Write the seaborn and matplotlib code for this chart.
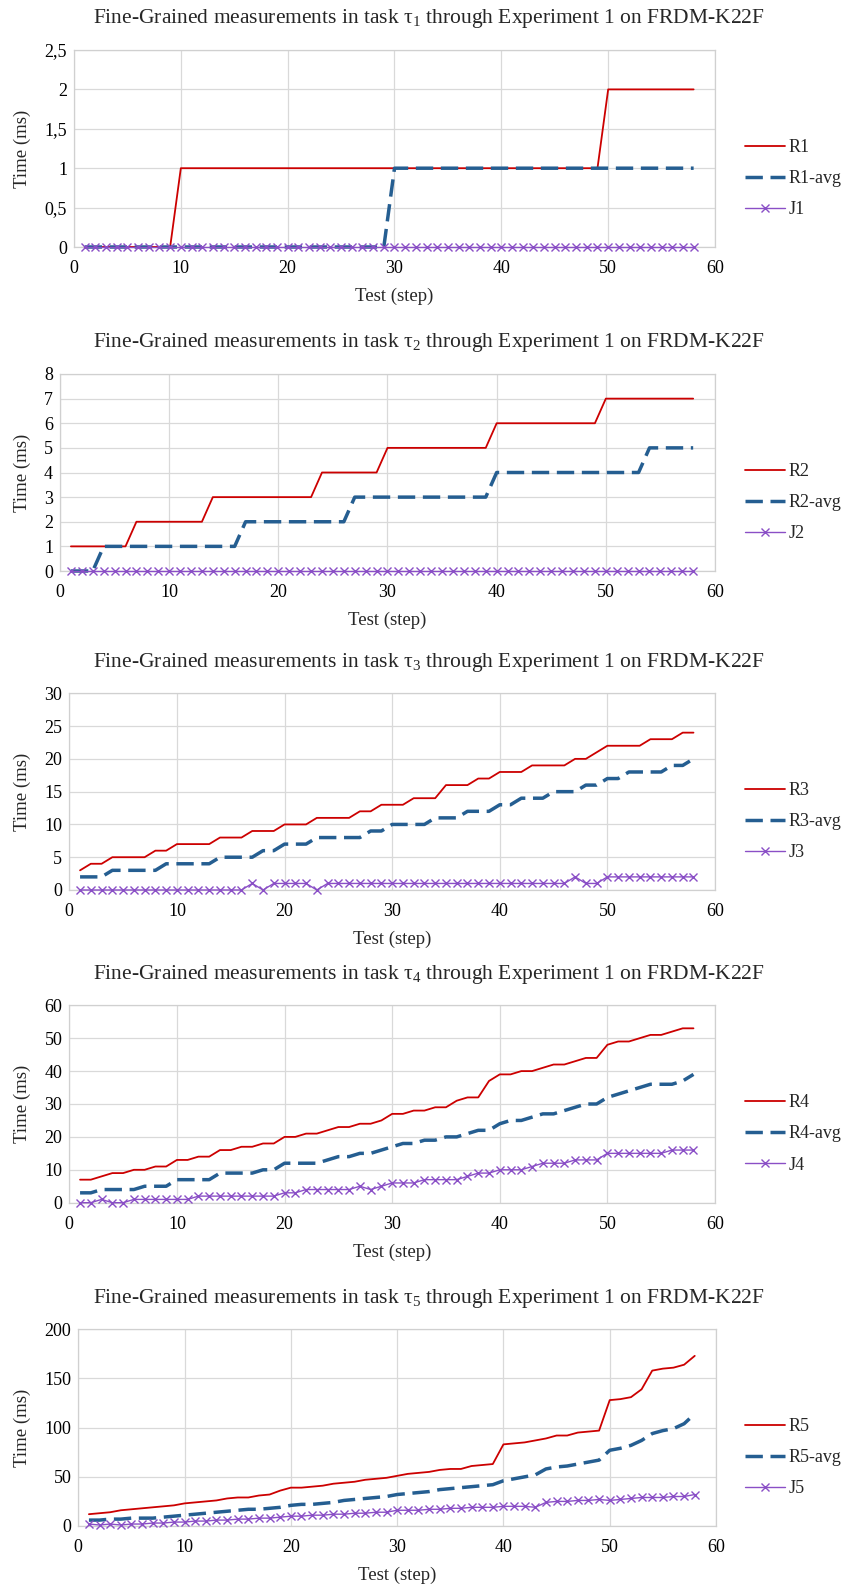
import matplotlib
matplotlib.use("Agg")
import matplotlib.pyplot as plt
import seaborn as sns

# ---------------- data ----------------
steps = list(range(1, 59))

R1 = [0, 0, 0, 0, 0, 0, 0, 0, 0, 1, 1, 1, 1, 1, 1, 1, 1, 1, 1, 1, 1, 1, 1, 1, 1, 1, 1, 1, 1, 1,
      1, 1, 1, 1, 1, 1, 1, 1, 1, 1, 1, 1, 1, 1, 1, 1, 1, 1, 1, 2, 2, 2, 2, 2, 2, 2, 2, 2]
R1_avg = [0, 0, 0, 0, 0, 0, 0, 0, 0, 0, 0, 0, 0, 0, 0, 0, 0, 0, 0, 0, 0, 0, 0, 0, 0, 0, 0, 0, 0, 1,
          1, 1, 1, 1, 1, 1, 1, 1, 1, 1, 1, 1, 1, 1, 1, 1, 1, 1, 1, 1, 1, 1, 1, 1, 1, 1, 1, 1]
J1 = [0, 0, 0, 0, 0, 0, 0, 0, 0, 0, 0, 0, 0, 0, 0, 0, 0, 0, 0, 0, 0, 0, 0, 0, 0, 0, 0, 0, 0, 0,
      0, 0, 0, 0, 0, 0, 0, 0, 0, 0, 0, 0, 0, 0, 0, 0, 0, 0, 0, 0, 0, 0, 0, 0, 0, 0, 0, 0]

R2 = [1, 1, 1, 1, 1, 1, 2, 2, 2, 2, 2, 2, 2, 3, 3, 3, 3, 3, 3, 3, 3, 3, 3, 4, 4, 4, 4, 4, 4, 5,
      5, 5, 5, 5, 5, 5, 5, 5, 5, 6, 6, 6, 6, 6, 6, 6, 6, 6, 6, 7, 7, 7, 7, 7, 7, 7, 7, 7]
R2_avg = [0, 0, 0, 1, 1, 1, 1, 1, 1, 1, 1, 1, 1, 1, 1, 1, 2, 2, 2, 2, 2, 2, 2, 2, 2, 2, 3, 3, 3, 3,
          3, 3, 3, 3, 3, 3, 3, 3, 3, 4, 4, 4, 4, 4, 4, 4, 4, 4, 4, 4, 4, 4, 4, 5, 5, 5, 5, 5]
J2 = [0, 0, 0, 0, 0, 0, 0, 0, 0, 0, 0, 0, 0, 0, 0, 0, 0, 0, 0, 0, 0, 0, 0, 0, 0, 0, 0, 0, 0, 0,
      0, 0, 0, 0, 0, 0, 0, 0, 0, 0, 0, 0, 0, 0, 0, 0, 0, 0, 0, 0, 0, 0, 0, 0, 0, 0, 0, 0]

R3 = [3, 4, 4, 5, 5, 5, 5, 6, 6, 7, 7, 7, 7, 8, 8, 8, 9, 9, 9, 10, 10, 10, 11, 11, 11, 11, 12, 12, 13, 13,
      13, 14, 14, 14, 16, 16, 16, 17, 17, 18, 18, 18, 19, 19, 19, 19, 20, 20, 21, 22, 22, 22, 22, 23, 23, 23, 24, 24]
R3_avg = [2, 2, 2, 3, 3, 3, 3, 3, 4, 4, 4, 4, 4, 5, 5, 5, 5, 6, 6, 7, 7, 7, 8, 8, 8, 8, 8, 9, 9, 10,
          10, 10, 10, 11, 11, 11, 12, 12, 12, 13, 13, 14, 14, 14, 15, 15, 15, 16, 16, 17, 17, 18, 18, 18, 18, 19, 19, 20]
J3 = [0, 0, 0, 0, 0, 0, 0, 0, 0, 0, 0, 0, 0, 0, 0, 0, 1, 0, 1, 1, 1, 1, 0, 1, 1, 1, 1, 1, 1, 1,
      1, 1, 1, 1, 1, 1, 1, 1, 1, 1, 1, 1, 1, 1, 1, 1, 2, 1, 1, 2, 2, 2, 2, 2, 2, 2, 2, 2]

R4 = [7, 7, 8, 9, 9, 10, 10, 11, 11, 13, 13, 14, 14, 16, 16, 17, 17, 18, 18, 20, 20, 21, 21, 22, 23, 23, 24, 24, 25, 27,
      27, 28, 28, 29, 29, 31, 32, 32, 37, 39, 39, 40, 40, 41, 42, 42, 43, 44, 44, 48, 49, 49, 50, 51, 51, 52, 53, 53]
R4_avg = [3, 3, 4, 4, 4, 4, 5, 5, 5, 7, 7, 7, 7, 9, 9, 9, 9, 10, 10, 12, 12, 12, 12, 13, 14, 14, 15, 15, 16, 17,
          18, 18, 19, 19, 20, 20, 21, 22, 22, 24, 25, 25, 26, 27, 27, 28, 29, 30, 30, 32, 33, 34, 35, 36, 36, 36, 37, 39]
J4 = [0, 0, 1, 0, 0, 1, 1, 1, 1, 1, 1, 2, 2, 2, 2, 2, 2, 2, 2, 3, 3, 4, 4, 4, 4, 4, 5, 4, 5, 6,
      6, 6, 7, 7, 7, 7, 8, 9, 9, 10, 10, 10, 11, 12, 12, 12, 13, 13, 13, 15, 15, 15, 15, 15, 15, 16, 16, 16]

R5 = [12, 13, 14, 16, 17, 18, 19, 20, 21, 23, 24, 25, 26, 28, 29, 29, 31, 32, 36, 39, 39, 40, 41, 43, 44, 45, 47, 48, 49, 51,
      53, 54, 55, 57, 58, 58, 61, 62, 63, 83, 84, 85, 87, 89, 92, 92, 95, 96, 97, 128, 129, 131, 139, 158, 160, 161, 164, 173]
R5_avg = [6, 6, 7, 7, 8, 8, 8, 9, 10, 11, 12, 13, 14, 15, 16, 17, 17, 18, 19, 21, 22, 22, 23, 24, 26, 27, 28, 29, 30, 32,
          33, 34, 35, 37, 38, 39, 40, 41, 42, 46, 48, 50, 52, 58, 60, 61, 63, 65, 67, 77, 79, 82, 87, 94, 97, 99, 104, 114]
J5 = [2, 1, 2, 1, 2, 2, 3, 3, 4, 4, 5, 5, 6, 6, 7, 7, 8, 8, 9, 10, 10, 11, 11, 12, 12, 13, 13, 14, 14, 16,
      16, 16, 17, 17, 18, 18, 19, 19, 19, 20, 20, 20, 19, 24, 25, 25, 26, 26, 27, 26, 27, 28, 29, 29, 29, 30, 30, 32]

task_ids = ["1", "2", "3", "4", "5"]
r_series = [R1, R2, R3, R4, R5]
ravg_series = [R1_avg, R2_avg, R3_avg, R4_avg, R5_avg]
j_series = [J1, J2, J3, J4, J5]

y_ticks = [[0, 0.5, 1, 1.5, 2, 2.5],
           [0, 1, 2, 3, 4, 5, 6, 7, 8],
           [0, 5, 10, 15, 20, 25, 30],
           [0, 10, 20, 30, 40, 50, 60],
           [0, 50, 100, 150, 200]]
y_ticklabels = [["0", "0,5", "1", "1,5", "2", "2,5"],
                ["0", "1", "2", "3", "4", "5", "6", "7", "8"],
                ["0", "5", "10", "15", "20", "25", "30"],
                ["0", "10", "20", "30", "40", "50", "60"],
                ["0", "50", "100", "150", "200"]]
x_ticks = [0, 10, 20, 30, 40, 50, 60]

# ---------------- style ----------------
sns.set_style("white")
plt.rcParams["font.family"] = ["Liberation Serif", "DejaVu Serif"]
plt.rcParams["mathtext.fontset"] = "custom"
plt.rcParams["mathtext.rm"] = "Liberation Serif"
plt.rcParams["mathtext.it"] = "Liberation Serif:italic"
plt.rcParams["mathtext.default"] = "rm"

RED = "#CC0000"
BLUE = "#255E91"
PURPLE = "#8A4FC6"
GRID = "#D9D9D9"

W, H = 858, 1584
fig = plt.figure(figsize=(W / 100, H / 100), dpi=100)
fig.patch.set_facecolor("white")

# axes boxes in pixels: left, right, top, bottom
boxes = [(74, 715, 50, 247),
         (60, 715, 374, 571),
         (69.3, 715, 693.3, 890),
         (69.3, 715, 1005.3, 1202.7),
         (78.3, 716, 1329.3, 1526)]

for i, (l, r, t, b) in enumerate(boxes):
    w = r - l
    h = b - t
    ax = fig.add_axes([l / W, 1 - b / H, w / W, h / H])
    tid = task_ids[i]
    sns.lineplot(x=steps, y=r_series[i], ax=ax, color=RED, linewidth=1.3,
                 label="R" + tid, errorbar=None, clip_on=False, zorder=3)
    sns.lineplot(x=steps, y=ravg_series[i], ax=ax, color=BLUE, linewidth=2.5,
                 linestyle=(0, (5, 2.2)), label="R" + tid + "-avg", errorbar=None,
                 clip_on=False, zorder=4)
    sns.lineplot(x=steps, y=j_series[i], ax=ax, color=PURPLE, linewidth=1.0,
                 marker="x", markersize=5.5, markeredgewidth=1.0,
                 markeredgecolor=PURPLE, markerfacecolor=PURPLE,
                 label="J" + tid, errorbar=None, clip_on=False, zorder=5)

    ax.set_xlim(0, 60)
    ax.set_ylim(y_ticks[i][0], y_ticks[i][-1])
    ax.set_xticks(x_ticks)
    ax.set_xticklabels([str(v) for v in x_ticks])
    ax.set_yticks(y_ticks[i])
    ax.set_yticklabels(y_ticklabels[i])
    ax.tick_params(axis="both", length=0, labelsize=13, colors="black")
    ax.tick_params(axis="x", pad=9.5)
    ax.tick_params(axis="y", pad=5)
    ax.grid(True, color=GRID, linewidth=0.9)
    ax.set_axisbelow(True)
    for sp in ax.spines.values():
        sp.set_visible(True)
        sp.set_color("#D0D0D0")
        sp.set_linewidth(0.9)

    ax.set_ylabel("Time (ms)", fontsize=13.5)
    ax.yaxis.set_label_coords((31 - l) / w, 0.5)
    ax.set_xlabel("Test (step)", fontsize=13.5)
    ax.xaxis.set_label_coords(0.5, -41 / h)

    fig.text(429 / W, 1 - (t - 31) / H,
             "Fine-Grained measurements in task $\\tau_{" + tid + "}$ through Experiment 1 on FRDM-K22F",
             ha="center", va="center", fontsize=15.5)

    handles, labels = ax.get_legend_handles_labels()
    ax.legend(handles, labels, loc="center left",
              bbox_to_anchor=((745 - l) / w, 0.5 - 30 / h),
              frameon=False, fontsize=13, borderpad=0, borderaxespad=0,
              handlelength=2.2, handletextpad=0.2, labelspacing=0.78)

fig.savefig("out.png", dpi=100, facecolor="white")
